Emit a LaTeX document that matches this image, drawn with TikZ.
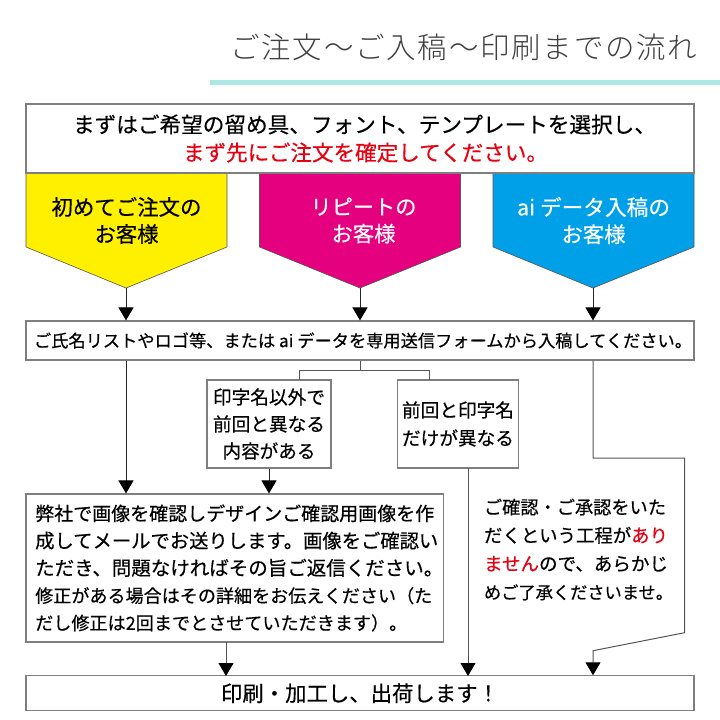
\documentclass[tikz,border=0pt]{standalone}
\usepackage{fontspec}
\usepackage{graphicx}
\usetikzlibrary{arrows.meta}
\setmainfont{Noto Sans CJK JP}[FakeBold=0.4]
\newfontfamily\titlefont{Noto Sans CJK JP Light}[LetterSpace=6]
\newcommand{\fitl}[2]{\resizebox{#1pt}{!}{#2}}
\newcommand{\fsz}[2]{\fontsize{#1}{#2}\selectfont}
\definecolor{edgegray}{HTML}{7F7F7F}
\definecolor{linegray}{HTML}{555555}
\definecolor{ruleteal}{HTML}{ABE8E4}
\definecolor{ymark}{HTML}{FFF000}
\definecolor{mmark}{HTML}{E4007F}
\definecolor{cmark}{HTML}{00A0E9}
\definecolor{redtxt}{HTML}{E60012}
\tikzset{
  x=1pt,y=-1pt,
  boxnode/.style={draw=edgegray,line width=1.1pt,fill=white,inner sep=0pt,align=center},
  pent/.style={draw=linegray,line width=0.6pt},
  lab/.style={inner sep=0pt,align=center},
  conn/.style={draw=linegray,line width=1pt},
  arr/.style={conn,-{Triangle[width=15pt,length=13pt,black]}},
  darr/.style={arr,draw=black!85},
}
\begin{document}
\begin{tikzpicture}
\useasboundingbox (0,0) rectangle (720,720);
\fill[white] (0,0) rectangle (720,720);
% title
\node[lab,text=black!75,font=\titlefont\fsz{28}{32}] (title) at (464,47) {\fitl{467}{ご注文〜ご入稿〜印刷までの流れ}};
\fill[ruleteal] (210,80) rectangle (720,85);
% pentagons
\fill[ymark,pent] (26,173) -- (227,173) -- (227,247) -- (126,288) -- (26,247) -- cycle;
\fill[mmark,pent] (259.5,173) -- (460.5,173) -- (460.5,247) -- (360,288) -- (259.5,247) -- cycle;
\fill[cmark,pent] (493,173) -- (694,173) -- (694,247) -- (593,288) -- (493,247) -- cycle;
\coordinate (tipY) at (126,288);
\coordinate (tipM) at (360,288);
\coordinate (tipC) at (593,288);
% boxes
\node[boxnode,minimum width=668pt,minimum height=69pt,font=\fsz{21}{28}] (top) at (360,138.5) {\hspace*{9pt}\fitl{583}{まずはご希望の留め具、フォント、テンプレートを選択し、}\\\hspace*{11pt}\textcolor{redtxt}{\fitl{365}{まず先にご注文を確定してください。}}};
\node[lab,font=\fsz{21}{27}] (ly) at (126.5,220.5) {\fitl{150}{初めてご注文の}\\\fitl{64}{お客様}};
\node[lab,text=white,font=\fsz{21}{27}] (lm) at (363.5,220.5) {\fitl{106}{リピートの}\\\fitl{64}{お客様}};
\node[lab,text=white,font=\fsz{21}{27}] (lc) at (593.5,220.5) {\fitl{153}{ai データ入稿の}\\\fitl{64}{お客様}};
\node[boxnode,minimum width=668pt,minimum height=39pt,font=\fsz{17}{20}] (mid) at (360,340.5) {\hspace*{6pt}\fitl{658}{ご氏名リストやロゴ等、または ai データを専用送信フォームから入稿してください。}};
\node[boxnode,minimum width=124pt,minimum height=88pt,font=\fsz{18.5}{27}] (ba) at (269,424) {\fitl{112}{印字名以外で}\\\fitl{112}{前回と異なる}\\\fitl{93}{内容がある}};
\node[boxnode,minimum width=120.5pt,minimum height=88pt,font=\fsz{18.5}{28}] (bb) at (458,424) {\fitl{112}{前回と印字名}\\\fitl{112}{だけが異なる}};
\node[boxnode,minimum width=417.5pt,minimum height=148pt,align=left,font=\fsz{19.5}{27.3}] (bc) at (234.75,568) {\fitl{399}{弊社で画像を確認しデザインご確認用画像を作}\\\makebox[399pt][l]{\fitl{403}{成してメールでお送りします。画像をご確認い}}\\\makebox[399pt][l]{\fitl{408}{ただき、問題なければその旨ご返信ください。}}\\\fitl{397}{修正がある場合はその詳細をお伝えください（た}\\\fitl{372}{だし修正は2回までとさせていただきます）。}};
\node[lab,align=left,font=\fsz{17}{28.3}] (note) at (576,549.5) {\fitl{182}{ご確認・ご承認をいた}\\\fitl{184}{だくという工程が\textcolor{redtxt}{あり}}\\\fitl{184}{\textcolor{redtxt}{ません}ので、あらかじ}\\\makebox[184pt][l]{\fitl{189}{めご了承くださいませ。}}};
\node[boxnode,minimum width=668pt,minimum height=35pt,font=\fsz{21}{26}] (bd) at (360,693.3) {\fitl{278}{印刷・加工し、出荷します！}};
% connectors
\draw[darr] (tipY) -- (tipY |- mid.north);
\draw[darr] (tipM) -- (tipM |- mid.north);
\draw[darr] (tipC) -- (tipC |- mid.north);
\draw[darr] (tipY |- mid.south) -- (tipY |- bc.north);
\coordinate (jn) at (360,370);
\draw[conn] (jn |- mid.south) -- (jn);
\draw[conn] (299,380) -- (299,370) -- (429,370) -- (429,380);
\draw[darr] (ba.south) -- (ba.south |- bc.north);
\draw[arr] (226,642) -- (226,676);
\draw[arr] (468,468) -- (468,676);
\coordinate (kneeA) at (593,458);
\coordinate (kneeB) at (684.6,458);
\coordinate (kneeC) at (684.6,632.7);
\coordinate (kneeD) at (593,650.7);
\draw[arr] (tipC |- mid.south) -- (kneeA) -- (kneeB) -- (kneeC) -- (kneeD) -- (kneeD |- bd.north);
\end{tikzpicture}
\end{document}
